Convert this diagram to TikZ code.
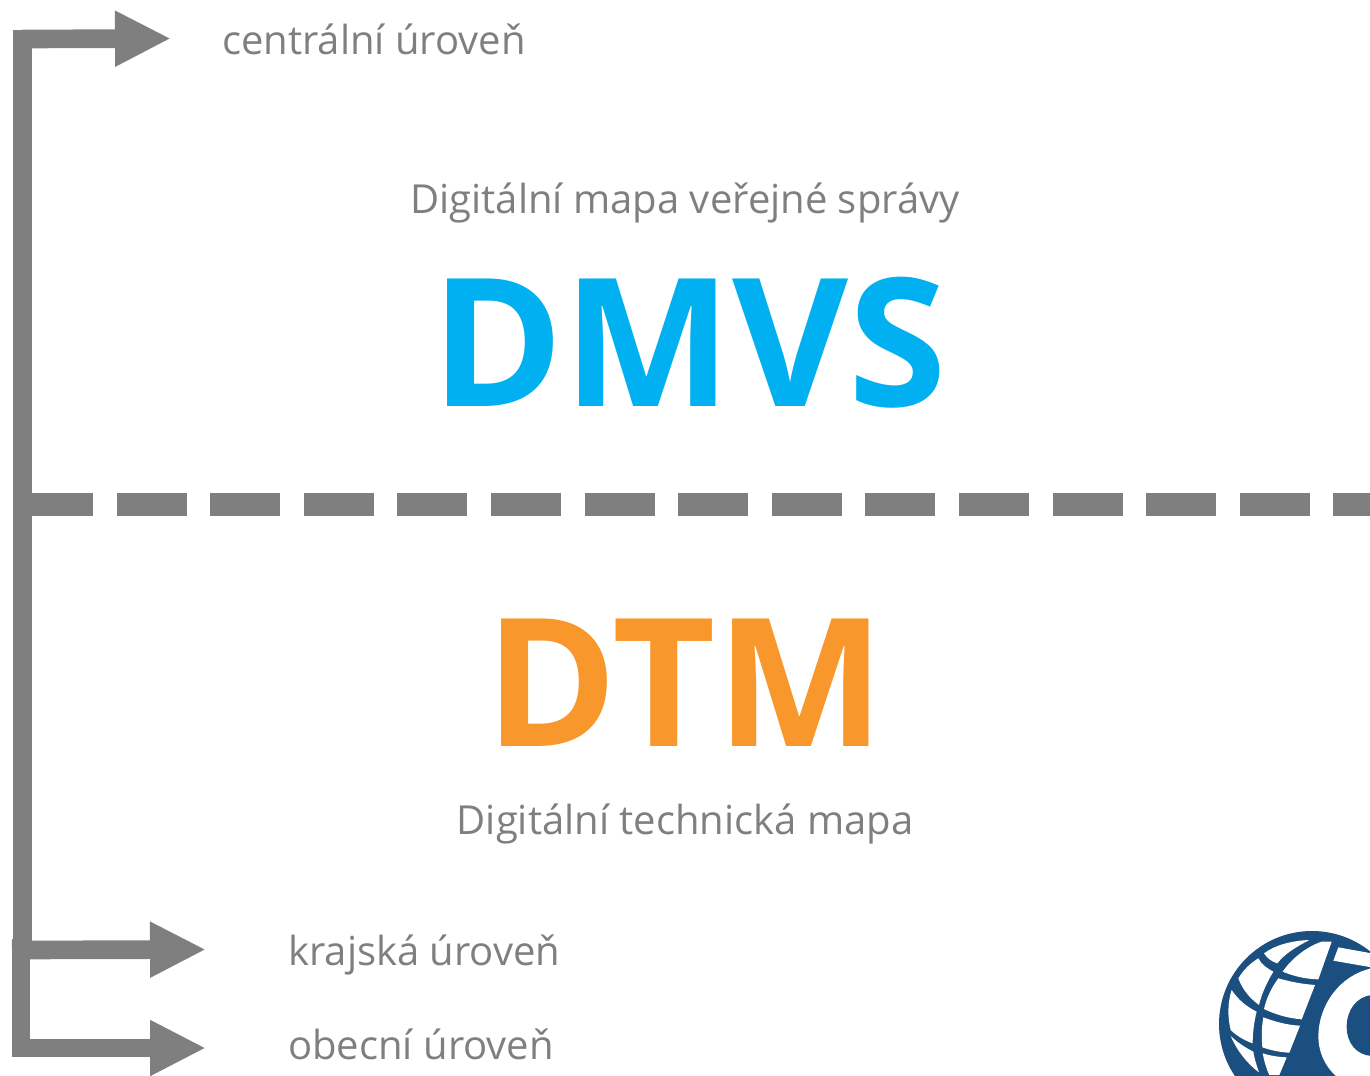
\documentclass[tikz,border=0pt]{standalone}
\usepackage{fontspec}
\setmainfont{Open Sans}
\usetikzlibrary{arrows.meta}
\definecolor{ln}{HTML}{7F7F7F}
\definecolor{dmvs}{HTML}{00B0F0}
\definecolor{dtm}{HTML}{F8982C}
\definecolor{logo}{HTML}{1B4F7F}
\tikzset{
 x=0.75pt,y=-0.75pt,
 small/.style={text=ln,inner sep=0pt,font=\fontsize{30}{36}\selectfont},
 big/.style={inner sep=0pt,font=\bfseries\fontsize{134}{160}\selectfont},
 barrow/.style={draw=ln,line width=14pt,-{Triangle[length=42pt,width=39pt]}},
 bar/.style={draw=ln,line width=14pt},
 cut/.style={fill=white,draw=none},
}
\begin{document}
\begin{tikzpicture}
\useasboundingbox (0,0) rectangle (1370,1075);
\clip (0,0) rectangle (1370,1075);
% texts
\node[small,anchor=base west] (central) at (222,54) {centrální úroveň};
\node[small,anchor=base] (dmvstitle) at (685,213) {Digitální mapa veřejné správy};
\node[big,text=dmvs,anchor=base] (dmvsname) at (689,406) {DMVS};
\node[big,text=dtm,anchor=base] (dtmname) at (685,746) {DTM};
\node[small,anchor=base] (dtmtitle) at (685,834) {Digitální technická mapa};
\node[small,anchor=base west] (kraj) at (288,965) {krajská úroveň};
\node[small,anchor=base west] (obec) at (288,1059) {obecní úroveň};
% connectors
\coordinate (topcorner) at (22.5,39);
\coordinate (tophead) at (171,38.5);
\coordinate (junction) at (22.5,950);
\coordinate (dashstart) at (23,504.5);
\coordinate (dashend) at (1370,504.5);
\coordinate (krajstart) at (12,950);
\coordinate (krajhead) at (206,949.5);
\coordinate (lowtop) at (21,939);
\coordinate (lowcorner) at (21,1048);
\coordinate (obechead) at (206,1048);
\draw[barrow] (22.5,30) -- (topcorner) -- (tophead);
\draw[bar] (topcorner) -- (junction);
\draw[barrow] (krajstart) -- (krajhead);
\draw[bar] (lowtop) -- (lowcorner);
\draw[barrow] (12,1048) -- (obechead);
\draw[draw=ln,line width=17.25pt,dash pattern=on 52.5pt off 17.7pt] (dashstart) -- (dashend);
% logo
\begin{scope}[shift={(1190,910)},x=0.25pt,y=-0.25pt]
\fill[logo] (366,342) circle[radius=69.75pt];
\fill[cut] (222,130) .. controls (255,105) and (305,92) .. (358,90) .. controls (320,110) and (285,130) .. (262,160) .. controls (245,155) and (232,145) .. (222,130) -- cycle;
\fill[cut] (425,95) -- (385,208) .. controls (345,207) and (310,198) .. (278,185) .. controls (305,145) and (350,110) .. (395,95) -- cycle;
\fill[cut] (145,205) .. controls (160,180) and (180,160) .. (205,145) .. controls (215,165) and (232,175) .. (250,185) .. controls (232,215) and (215,250) .. (207,285) .. controls (180,265) and (158,240) .. (145,205) -- cycle;
\fill[cut] (265,205) .. controls (300,215) and (335,222) .. (375,225) -- (335,328) .. controls (295,325) and (255,313) .. (222,297) .. controls (230,262) and (245,232) .. (265,205) -- cycle;
\fill[cut] (125,240) .. controls (145,270) and (170,290) .. (200,305) .. controls (192,335) and (188,370) .. (188,400) .. controls (165,392) and (140,378) .. (122,360) .. controls (112,320) and (113,275) .. (125,240) -- cycle;
\fill[cut] (220,322) .. controls (255,335) and (290,345) .. (330,347) -- (298,428) .. controls (270,427) and (240,420) .. (217,412) .. controls (214,380) and (215,350) .. (220,322) -- cycle;
\fill[cut] (122,378) .. controls (143,398) and (165,412) .. (190,425) .. controls (193,445) and (200,468) .. (207,487) .. controls (170,460) and (140,420) .. (122,378) -- cycle;
\fill[cut] (218,430) .. controls (240,437) and (265,441) .. (290,442) -- (268,495) -- (238,495) .. controls (228,475) and (222,450) .. (218,430) -- cycle;
\fill[cut] (445,112) -- (545,130) -- (545,172) -- (430,152) -- cycle;
\fill[cut] (545,175) .. controls (450,195) and (385,285) .. (385,380) .. controls (385,425) and (405,470) .. (440,500) -- (545,500) -- cycle;
\fill[logo] (545,255) .. controls (500,260) and (470,300) .. (470,350) .. controls (470,400) and (500,435) .. (545,438) -- cycle;
\end{scope}
\end{tikzpicture}
\end{document}
